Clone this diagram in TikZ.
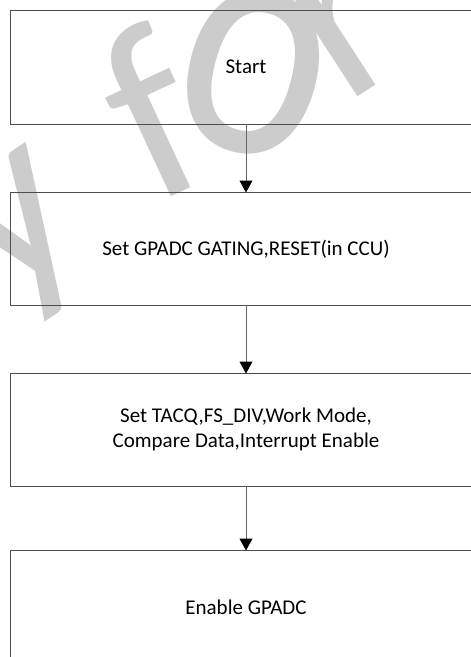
\documentclass[tikz,border=0pt]{standalone}
\usepackage{fontspec}
\setmainfont{Carlito}
\usetikzlibrary{arrows.meta}
\begin{document}
\begin{tikzpicture}[x=1pt,y=-1pt,
  stepbox/.style={draw=black!70, line width=1pt},
  steptext/.style={font=\fontsize{21}{25}\selectfont, align=center, inner sep=0pt},
  flow/.style={draw=black!60, line width=1pt, -{Triangle[width=13pt,length=12pt,color=black]}},
  wmark/.style={text=black!20, font=\fontsize{250}{250}\selectfont, inner sep=0pt}]
\useasboundingbox (0,0) rectangle (471,657);
\clip (0,0) rectangle (471,657);
% watermark letters
\node[wmark, rotate=34] (wy) at (25,239) {y};
\node[wmark, rotate=25] (wf) at (151,112) {f};
\node[wmark, font=\fontsize{280}{280}\selectfont, rotate=-15, yscale=1.2] (wo) at (254,72) {o};
\node[wmark, rotate=33] (wr) at (348,31) {r};
% boxes
\draw[stepbox] (10.5,10.5) rectangle (482,124);
\draw[stepbox] (10.5,192.5) rectangle (482,305);
\draw[stepbox] (10.5,373.5) rectangle (482,486);
\draw[stepbox] (10.5,550.5) rectangle (482,664);
\node[steptext] (s1) at (246,67) {Start};
\node[steptext] (s2) at (246,249) {Set GPADC GATING,RESET(in CCU)};
\node[steptext] (s3) at (246,429) {Set TACQ,FS\_DIV,Work Mode,\\Compare Data,Interrupt Enable};
\node[steptext] (s4) at (246,607) {Enable GPADC};
\coordinate (b1) at (246,124);
\coordinate (t2) at (246,192.5);
\coordinate (b2) at (246,305);
\coordinate (t3) at (246,373.5);
\coordinate (b3) at (246,486);
\coordinate (t4) at (246,550.5);
\draw[flow] (b1) -- (t2);
\draw[flow] (b2) -- (t3);
\draw[flow] (b3) -- (t4);
\end{tikzpicture}
\end{document}
